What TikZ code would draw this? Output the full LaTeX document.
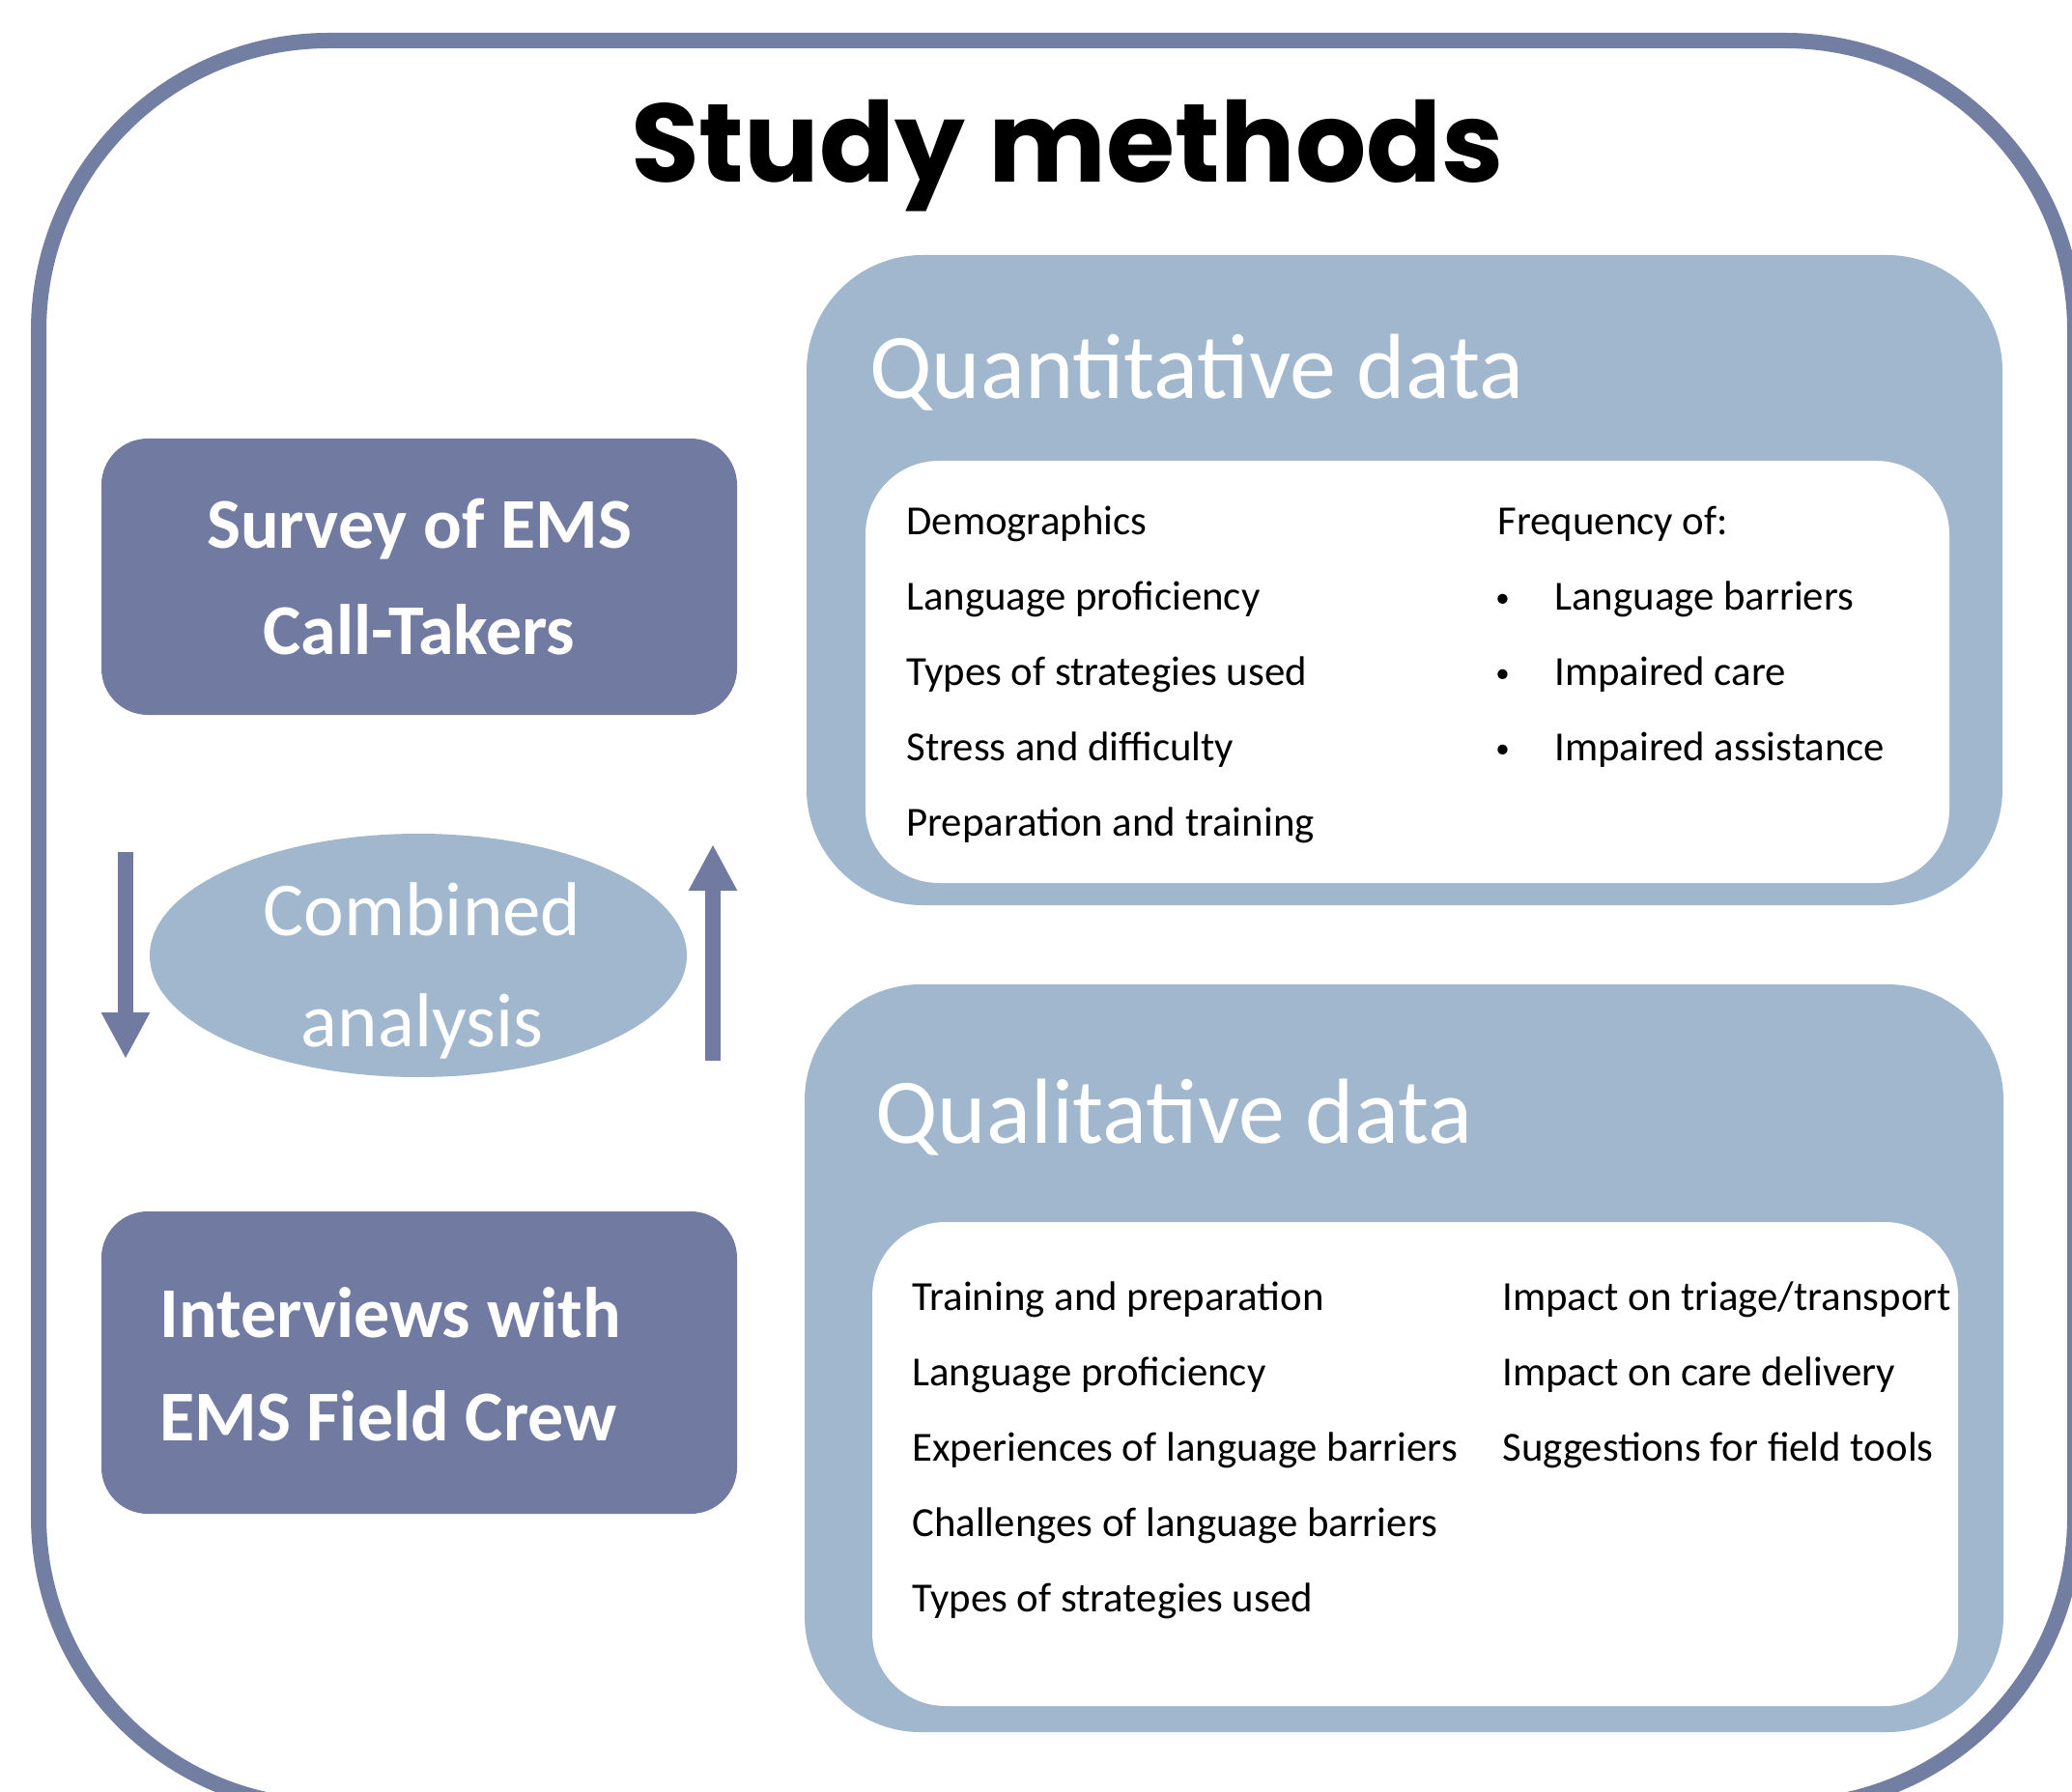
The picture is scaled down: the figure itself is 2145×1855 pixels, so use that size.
\documentclass[tikz,border=0pt]{standalone}
\usepackage{fontspec}
\setmainfont{Carlito}
\newfontfamily\titlefont{Poppins}
\usetikzlibrary{arrows.meta,shapes.geometric}
\definecolor{frameblue}{HTML}{737EA3}
\definecolor{darkbox}{HTML}{717BA1}
\definecolor{lightbox}{HTML}{A1B7CD}
\begin{document}
\begin{tikzpicture}[x=0.5pt,y=-0.5pt,
  framebox/.style={draw=frameblue, line width=8pt, rounded corners=150pt, minimum width=1054pt, minimum height=914pt, inner sep=0pt},
  darkrect/.style={fill=darkbox, rounded corners=24pt, minimum width=329pt, inner sep=0pt},
  outerbox/.style={fill=lightbox, rounded corners=60pt, inner sep=0pt},
  innerbox/.style={fill=white, rounded corners=38pt, inner sep=0pt},
  boxtext/.style={text=white, font=\fontsize{37}{46}\selectfont\bfseries, inner sep=0pt},
  headtext/.style={text=white, font=\fontsize{47.9}{58}\selectfont, inner sep=0pt, anchor=base west},
  ovaltext/.style={text=white, font=\fontsize{39.5}{48}\selectfont, inner sep=0pt, anchor=base},
  item/.style={text=black, font=\fontsize{21.4}{26}\selectfont, inner sep=0pt, anchor=base west},
  bulletmark/.style={text=black, font=\fontsize{14.5}{16}\selectfont, inner sep=0pt, anchor=base west},
  blockarrow/.style={draw=darkbox, line width=8pt, -{Triangle[width=23.5pt,length=24pt]}}
]
\useasboundingbox (0,0) rectangle (2145,1855);
\clip (0,0) rectangle (2145,1855);
\fill[white] (0,0) rectangle (2145,1855);

% outer frame
\node[framebox] (frame) at (1094,956) {};

% title
\node[inner sep=0pt, anchor=base, font=\titlefont\bfseries\fontsize{57.6}{64}\selectfont] (title) at (1105,189) {Study methods};

% left boxes
\node[darkrect, minimum height=143pt] (survey) at (434,597) {};
\node[boxtext, anchor=base] (survey1) at (434,568) {Survey of EMS};
\node[boxtext, anchor=base] (survey2) at (434,677) {Call-Takers};

\node[darkrect, minimum height=156.5pt] (interviews) at (434,1410.5) {};
\node[boxtext, anchor=base west] (interviews1) at (165,1384) {Interviews with};
\node[boxtext, anchor=base west] (interviews2) at (165,1491) {EMS Field Crew};

% combined analysis
\node[ellipse, fill=lightbox, minimum width=278pt, minimum height=126pt, inner sep=0pt] (combined) at (433,989) {};
\node[ovaltext] (comb1) at (437,968) {Combined};
\node[ovaltext] (comb2) at (437,1083) {analysis};

% arrows
\coordinate (downstart) at (130,882);
\coordinate (downend) at (130,1096);
\coordinate (upstart) at (738,1098);
\coordinate (upend) at (738,874);
\draw[blockarrow] (downstart) -- (downend);
\draw[blockarrow] (upstart) -- (upend);

% quantitative
\node[outerbox, minimum width=619pt, minimum height=336.5pt] (quant) at (1454,600.5) {};
\node[innerbox, minimum width=561pt, minimum height=218.5pt] (quantin) at (1457,695.5) {};
\node[headtext] (quanttitle) at (900,413) {Quantitative data};
\node[item] (q1) at (938,554) {Demographics};
\node[item] (q2) at (938,632) {Language proficiency};
\node[item] (q3) at (938,709) {Types of strategies used};
\node[item] (q4) at (938,787) {Stress and difficulty};
\node[item] (q5) at (938,865) {Preparation and training};
\node[item] (q6) at (1550,554) {Frequency of:};
\node[bulletmark] (b1) at (1548,629) {•};
\node[bulletmark] (b2) at (1548,706) {•};
\node[bulletmark] (b3) at (1548,784) {•};
\node[item] (q7) at (1609,632) {Language barriers};
\node[item] (q8) at (1609,709) {Impaired care};
\node[item] (q9) at (1609,787) {Impaired assistance};

% qualitative
\node[outerbox, minimum width=620.5pt, minimum height=387pt] (qual) at (1453.5,1406) {};
\node[innerbox, minimum width=562pt, minimum height=250.5pt] (qualin) at (1465,1515.5) {};
\node[headtext] (qualtitle) at (906,1183) {Qualitative data};
\node[item] (l1) at (944,1356) {Training and preparation};
\node[item] (l2) at (944,1434) {Language proficiency};
\node[item] (l3) at (944,1512) {Experiences of language barriers};
\node[item] (l4) at (944,1590) {Challenges of language barriers};
\node[item] (l5) at (944,1668) {Types of strategies used};
\node[item] (r1) at (1555,1356) {Impact on triage/transport};
\node[item] (r2) at (1555,1434) {Impact on care delivery};
\node[item] (r3) at (1555,1512) {Suggestions for field tools};
\end{tikzpicture}
\end{document}
